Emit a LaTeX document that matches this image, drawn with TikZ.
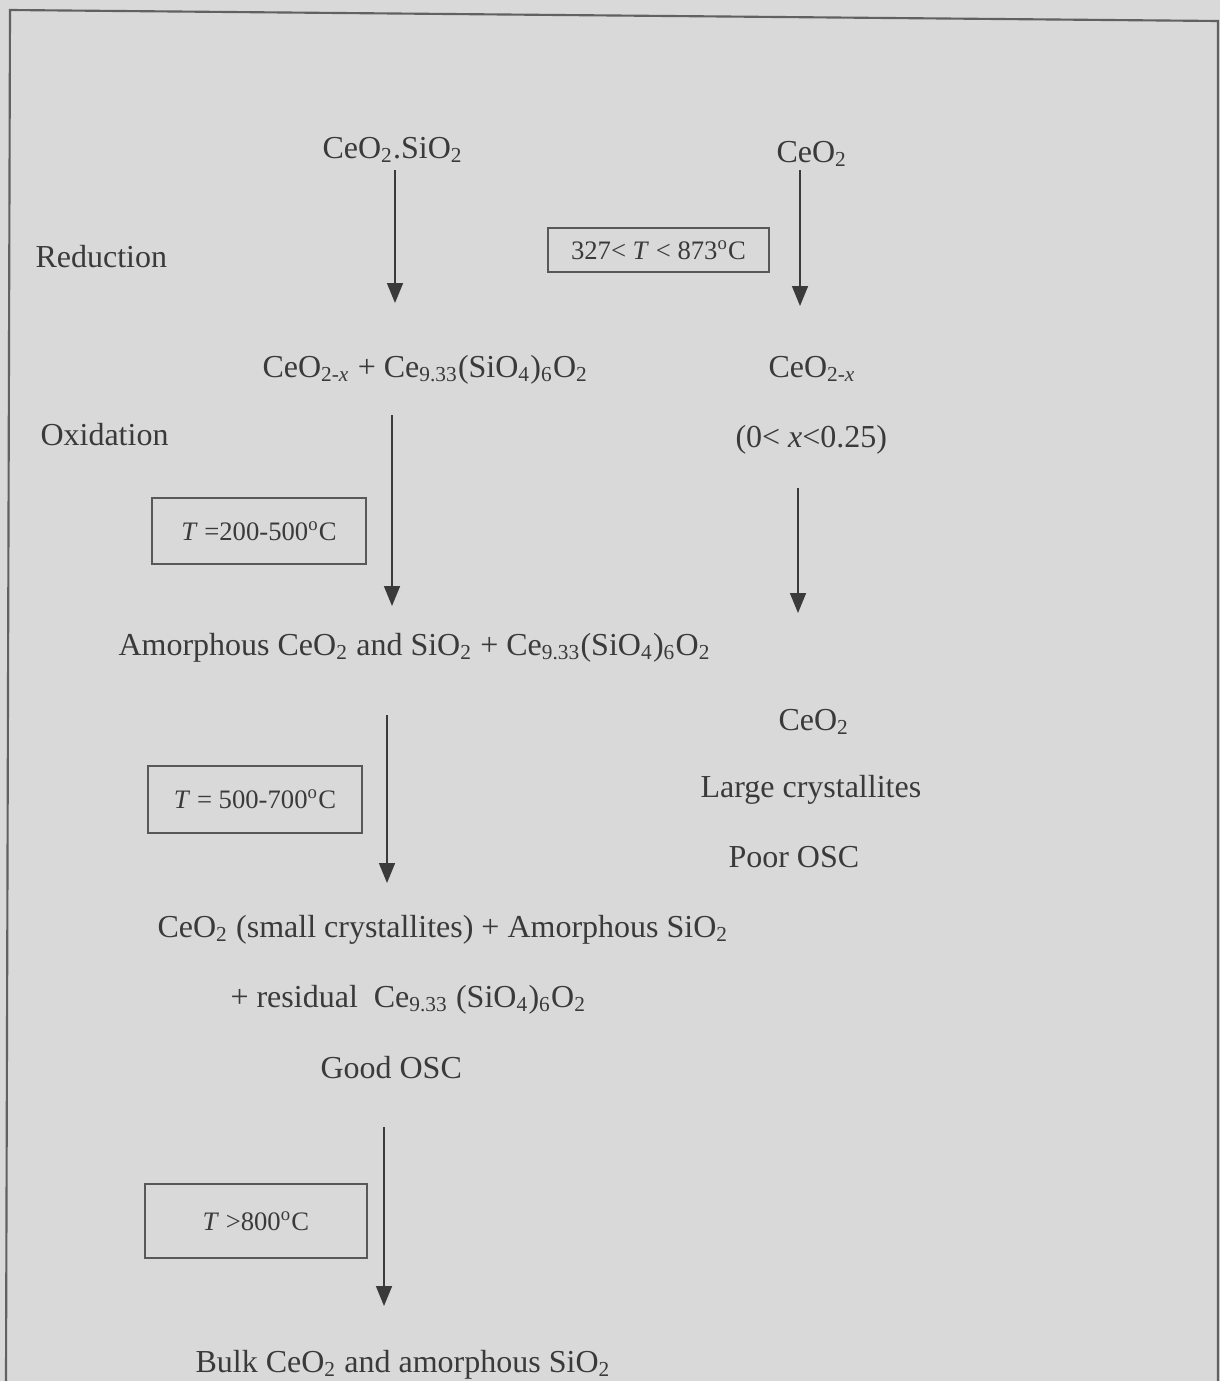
\documentclass[tikz,border=0pt]{standalone}
\usepackage{fontspec}
\setmainfont{Liberation Serif}
\usetikzlibrary{arrows.meta}
\definecolor{paper}{RGB}{216,217,216}
\definecolor{ink}{RGB}{58,58,58}
\newcommand{\chsub}[1]{\textsubscript{#1}}
\newcommand{\degC}{\textsuperscript{o}C}

\begin{document}
\begin{tikzpicture}[x=0.375pt,y=-0.375pt,-]
    \tikzstyle{chem}=[text=ink,font=\fontsize{12}{14}\selectfont,inner sep=0pt,anchor=base west]
    \tikzstyle{tempbox}=[draw=ink!85,line width=0.7pt,text=ink,font=\fontsize{10}{12}\selectfont,inner sep=0pt]
    \tikzstyle{flow}=[draw=ink,line width=0.6pt,-{Triangle[width=6pt,length=7.5pt]}]
    \useasboundingbox[fill=paper] (0,0) rectangle (1220,1381);
    \draw[ink!80,line width=0.8pt] (6,1381) -- (10,10) -- (1218,21) -- (1218,1381);

    % left column
    \node[chem] (start) at (322,158) {CeO\chsub{2}.SiO\chsub{2}};
    \node[chem] (red) at (35,267) {Reduction};
    \node[chem] (mix) at (262,377) {CeO\chsub{2-\textit{x}} + Ce\chsub{9.33}(SiO\chsub{4})\chsub{6}O\chsub{2}};
    \node[chem] (ox) at (40,445) {Oxidation};
    \node[chem] (amor) at (118,655) {Amorphous CeO\chsub{2} and SiO\chsub{2} + Ce\chsub{9.33}(SiO\chsub{4})\chsub{6}O\chsub{2}};
    \node[chem] (small) at (157,937) {CeO\chsub{2} (small crystallites) + Amorphous SiO\chsub{2}};
    \node[chem] (resid) at (230,1007) {+ residual\ \ Ce\chsub{9.33} (SiO\chsub{4})\chsub{6}O\chsub{2}};
    \node[chem] (good) at (320,1078) {Good OSC};
    \node[chem] (bulk) at (195,1372) {Bulk CeO\chsub{2} and amorphous SiO\chsub{2}};

    % right column
    \node[chem] (ceo) at (776,162) {CeO\chsub{2}};
    \node[chem] (ceox) at (768,377) {CeO\chsub{2-\textit{x}}};
    \node[chem] (range) at (735,447) {(0< \textit{x}<0.25)};
    \node[chem] (ceoend) at (778,730) {CeO\chsub{2}};
    \node[chem] (large) at (700,797) {Large crystallites};
    \node[chem] (poor) at (728,867) {Poor OSC};

    % temperature boxes
    \node[tempbox,minimum width=221*0.375pt,minimum height=44*0.375pt] (t1) at (658.5,250) {327< \textit{T} < 873\degC};
    \node[tempbox,minimum width=214*0.375pt,minimum height=66*0.375pt] (t2) at (259,531) {\textit{T} =200-500\degC};
    \node[tempbox,minimum width=214*0.375pt,minimum height=67*0.375pt] (t3) at (255,799.5) {\textit{T} = 500-700\degC};
    \node[tempbox,minimum width=222*0.375pt,minimum height=74*0.375pt] (t4) at (256,1221) {\textit{T} >800\degC};

    % arrow ends
    \coordinate (s1) at (395,170);  \coordinate (e1) at (395,303);
    \coordinate (s2) at (800,170);  \coordinate (e2) at (800,306);
    \coordinate (s3) at (392,415);  \coordinate (e3) at (392,606);
    \coordinate (s4) at (798,488);  \coordinate (e4) at (798,613);
    \coordinate (s5) at (387,715);  \coordinate (e5) at (387,883);
    \coordinate (s6) at (384,1127); \coordinate (e6) at (384,1306);
    \foreach \n in {1,...,6}
        \draw[flow] (s\n) -- (e\n);
\end{tikzpicture}
\end{document}
